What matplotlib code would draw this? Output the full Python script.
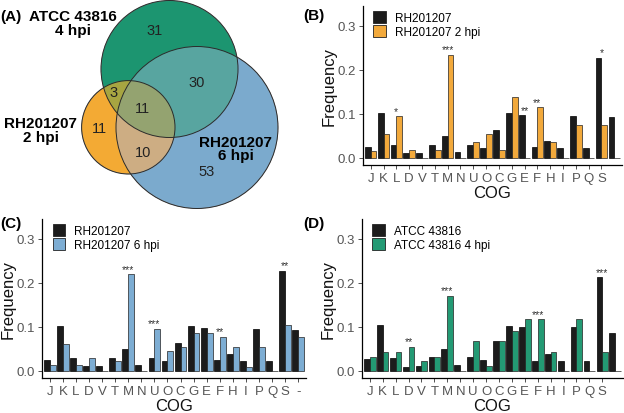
import numpy as np
import matplotlib
matplotlib.use("Agg")
import matplotlib.pyplot as plt
from matplotlib.patches import Circle, Patch

plt.rcParams['font.family'] = ['Liberation Sans', 'DejaVu Sans']

# ---------------------------------------------------------------------------
# Data
# ---------------------------------------------------------------------------
cog = ["J", "K", "L", "D", "V", "T", "M", "N", "U", "O",
       "C", "G", "E", "F", "H", "I", "P", "Q", "S", "-"]

rh201207 = [0.025, 0.102, 0.030, 0.010, 0.010, 0.030, 0.049, 0.012, 0.029, 0.022,
            0.063, 0.102, 0.097, 0.024, 0.037, 0.021, 0.094, 0.021, 0.227, 0.093]
rh_2hpi = [0.016, 0.054, 0.094, 0.017, 0.0, 0.017, 0.234, 0.0, 0.035, 0.054,
           0.017, 0.137, 0.0, 0.115, 0.036, 0.0, 0.075, 0.0, 0.075, 0.0]
rh_6hpi = [0.014, 0.061, 0.014, 0.030, 0.0, 0.022, 0.219, 0.0, 0.095, 0.045,
           0.053, 0.086, 0.086, 0.077, 0.053, 0.008, 0.053, 0.0, 0.104, 0.077]
atcc43816 = [0.026, 0.104, 0.029, 0.008, 0.011, 0.031, 0.050, 0.013, 0.031, 0.024,
             0.067, 0.102, 0.100, 0.022, 0.039, 0.023, 0.099, 0.022, 0.212, 0.085]
atcc_4hpi = [0.032, 0.043, 0.043, 0.055, 0.022, 0.032, 0.170, 0.0, 0.067, 0.010,
             0.067, 0.091, 0.117, 0.117, 0.043, 0.0, 0.117, 0.0, 0.043, 0.0]

stars_b = {"L": "*", "M": "***", "E": "**", "F": "**", "S": "*"}
stars_c = {"M": "***", "U": "***", "F": "**", "S": "**"}
stars_d = {"D": "**", "M": "***", "F": "***", "S": "***"}

# Venn counts: G only, B only, O only, G&B, G&O, B&O, all three
venn_counts = {"g": 31, "b": 53, "o": 11, "gb": 30, "go": 3, "bo": 10, "gbo": 11}

ORANGE = "#F2A93B"
BLUE = "#7DADD3"
GREEN = "#239A74"
DARK = "#1C1C1C"

W, H = 624, 414
fig = plt.figure(figsize=(W / 100, H / 100), dpi=100)


def px_axes(left, top, right, bottom):
    return fig.add_axes([left / W, 1 - bottom / H, (right - left) / W, (bottom - top) / H])


# ---------------------------------------------------------------------------
# (A) Venn diagram, drawn in pixel units
# ---------------------------------------------------------------------------
ax = px_axes(0, 0, 312, 220)
ax.set_xlim(0, 312)
ax.set_ylim(220, 0)
ax.axis("off")

circ_g = (169.5, 70.0, 68.5)
circ_b = (197.0, 128.5, 81.0)
circ_o = (128.3, 128.3, 46.7)

region_col = {
    "g": (28, 150, 112), "b": (124, 170, 205), "o": (243, 170, 52),
    "gb": (88, 166, 160), "go": (168, 166, 66), "bo": (205, 174, 132),
    "gbo": (148, 163, 112),
}

xs = np.linspace(0, 312, 1248)
ys = np.linspace(0, 220, 880)
X, Y = np.meshgrid(xs, ys)


def inside(c):
    return (X - c[0]) ** 2 + (Y - c[1]) ** 2 <= c[2] ** 2


ig, ib, io = inside(circ_g), inside(circ_b), inside(circ_o)
img = np.zeros(X.shape + (4,))
for key, mask in [("g", ig & ~ib & ~io), ("b", ib & ~ig & ~io), ("o", io & ~ig & ~ib),
                  ("gb", ig & ib & ~io), ("go", ig & io & ~ib), ("bo", ib & io & ~ig),
                  ("gbo", ig & ib & io)]:
    r, g, b = region_col[key]
    img[mask] = (r / 255, g / 255, b / 255, 1.0)
ax.imshow(img, extent=(0, 312, 220, 0), interpolation="bilinear", zorder=1)
for c in (circ_g, circ_b, circ_o):
    ax.add_patch(Circle(c[:2], c[2], fill=False, ec="#2b2b2b", lw=0.7, zorder=2))

num_pos = {"g": (155, 31), "gb": (197, 83), "go": (114, 93), "gbo": (142, 109),
           "o": (99, 129), "bo": (143, 153), "b": (207, 172)}
for key, (x, y) in num_pos.items():
    ax.text(x, y, str(venn_counts[key]), ha="center", va="center", fontsize=10.5,
            color="#222222", zorder=3)

ax.text(73, 24, "ATCC 43816\n4 hpi", ha="center", va="center", fontsize=11,
        fontweight="bold", linespacing=0.95, zorder=3)
ax.text(40.5, 131, "RH201207\n2 hpi", ha="center", va="center", fontsize=11,
        fontweight="bold", linespacing=0.95, zorder=3)
ax.text(235.5, 149.5, "RH201207\n6 hpi", ha="center", va="center", fontsize=11,
        fontweight="bold", linespacing=0.95, zorder=3)
ax.text(0, 17, "(A)", ha="left", va="center", fontsize=11, fontweight="bold", zorder=3)


# ---------------------------------------------------------------------------
# Bar panels
# ---------------------------------------------------------------------------
def bar_panel(box, ref, comp, ref_label, comp_label, color, stars, show_dash, tag, tag_xy):
    ax = px_axes(*box)
    x = np.arange(len(cog))
    w = 0.45
    ax.bar(x - w / 2, ref, width=w, color=DARK, edgecolor="black", linewidth=0.5,
           label=ref_label)
    ax.bar(x + w / 2, comp, width=w, color=color, edgecolor="#222222", linewidth=0.5,
           label=comp_label)
    for cat, s in stars.items():
        i = cog.index(cat)
        top = max(ref[i], comp[i])
        ax.text(i, top + 0.001, s, ha="center", va="bottom", fontsize=7.5, color="#333333")

    ax.set_xlim(-0.6, 19.6)
    ax.set_ylim(-0.0166, 0.345)
    n = len(cog) if show_dash else len(cog) - 1
    ax.set_xticks(x[:n])
    ax.set_xticklabels(cog[:n])
    ax.set_yticks([0.0, 0.1, 0.2, 0.3])
    ax.set_yticklabels(["0.0", "0.1", "0.2", "0.3"])
    ax.tick_params(axis="both", direction="out", length=3, width=0.6, color="#333333",
                   labelsize=9.5, labelcolor="#555555", pad=2)
    for s in ("top", "right"):
        ax.spines[s].set_visible(False)
    for s in ("left", "bottom"):
        ax.spines[s].set_linewidth(0.9)
        ax.spines[s].set_color("black")
    ax.set_xlabel("COG", fontsize=12, labelpad=1, color="#111111")
    ax.set_ylabel("Frequency", fontsize=12, labelpad=1, color="#111111")

    handles = [Patch(facecolor=DARK, edgecolor="#222222", lw=0.6, label=ref_label),
               Patch(facecolor=color, edgecolor="#222222", lw=0.6, label=comp_label)]
    ax.legend(handles=handles, loc="upper left", bbox_to_anchor=(0.04, 0.97),
              frameon=False, fontsize=8.5, handlelength=1.05, handleheight=1.25,
              handletextpad=0.8, labelspacing=0.05, borderaxespad=0, borderpad=0)
    fig.text(tag_xy[0] / W, 1 - tag_xy[1] / H, tag, ha="left", va="center",
             fontsize=11, fontweight="bold")
    return ax


bar_panel((363, 7, 622, 166), rh201207, rh_2hpi, "RH201207", "RH201207 2 hpi",
          ORANGE, stars_b, False, "(B)", (303, 16))
bar_panel((42, 220, 306, 379), rh201207, rh_6hpi, "RH201207", "RH201207 6 hpi",
          BLUE, stars_c, True, "(C)", (0, 224))
bar_panel((362, 220, 623, 379), atcc43816, atcc_4hpi, "ATCC 43816", "ATCC 43816 4 hpi",
          GREEN, stars_d, False, "(D)", (303, 224))

fig.savefig("out.png", dpi=100)
